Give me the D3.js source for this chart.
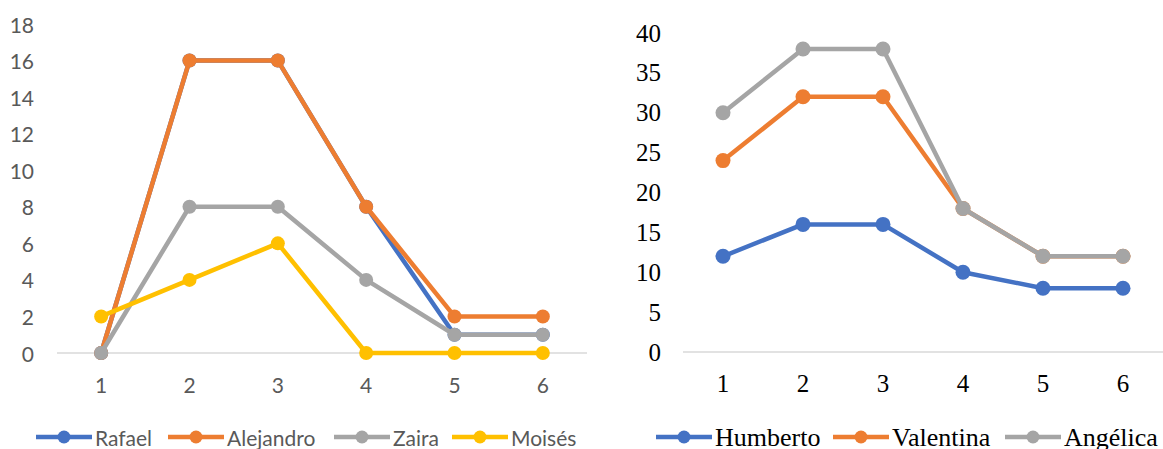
<!DOCTYPE html>
<html>
<head>
<meta charset="utf-8">
<script src="https://cdn.jsdelivr.net/npm/d3@7"></script>
<style>
  html, body { margin: 0; padding: 0; background: #fff; }
  svg { display: block; }
</style>
</head>
<body>
<svg id="chart" width="1163" height="449"></svg>
<script>
// Sessions 1..6 shared by both panels
const sessions = ["1", "2", "3", "4", "5", "6"];

// Left panel series
const leftTicks = [0, 2, 4, 6, 8, 10, 12, 14, 16, 18];
const rafael     = [0, 16, 16, 8, 1, 1];
const alejandro  = [0, 16, 16, 8, 2, 2];
const zaira      = [0, 8, 8, 4, 1, 1];
const moises     = [2, 4, 6, 0, 0, 0];

// Right panel series
const rightTicks = [0, 5, 10, 15, 20, 25, 30, 35, 40];
const humberto   = [12, 16, 16, 10, 8, 8];
const valentina  = [24, 32, 32, 18, 12, 12];
const angelica   = [30, 38, 38, 18, 12, 12];

const BLUE = "#4472C4", ORANGE = "#ED7D31", GREY = "#A5A5A5", GOLD = "#FFC000";

const svg = d3.select("#chart");

function panel(cfg) {
  const g = svg.append("g");
  const x = d3.scalePoint().domain(sessions).range(cfg.xRange).padding(0.5);
  const y = d3.scaleLinear().domain([0, cfg.max]).range(cfg.yRange);

  // baseline
  g.append("line")
    .attr("x1", cfg.xRange[0]).attr("x2", cfg.xRange[1])
    .attr("y1", y(0)).attr("y2", y(0))
    .attr("stroke", "#D9D9D9").attr("stroke-width", 1.3);

  // y tick labels
  g.selectAll("text.ytick").data(cfg.ticks).join("text")
    .attr("class", "ytick")
    .attr("x", cfg.yLabelX).attr("y", d => y(d))
    .attr("text-anchor", "end").attr("dominant-baseline", "central")
    .attr("font-family", cfg.font).attr("font-size", cfg.fontSize)
    .attr("fill", cfg.textColor)
    .text(d => d);

  // x tick labels
  g.selectAll("text.xtick").data(sessions).join("text")
    .attr("class", "xtick")
    .attr("x", d => x(d)).attr("y", cfg.xLabelY)
    .attr("text-anchor", "middle").attr("dominant-baseline", "central")
    .attr("font-family", cfg.font).attr("font-size", cfg.fontSize)
    .attr("fill", cfg.textColor)
    .text(d => d);

  const line = d3.line().x((d, i) => x(sessions[i])).y(d => y(d));

  cfg.series.forEach(s => {
    const sg = g.append("g");
    sg.append("path").datum(s.values)
      .attr("d", line).attr("fill", "none")
      .attr("stroke", s.color).attr("stroke-width", 4.5)
      .attr("stroke-linejoin", "round");
    sg.selectAll("circle").data(s.values).join("circle")
      .attr("cx", (d, i) => x(sessions[i])).attr("cy", d => y(d))
      .attr("r", cfg.r).attr("fill", s.color);
  });

  // legend
  const lg = g.append("g");
  cfg.series.forEach((s, i) => {
    const lx = cfg.legendX[i];
    lg.append("line")
      .attr("x1", lx).attr("x2", lx + 56)
      .attr("y1", cfg.legendY).attr("y2", cfg.legendY)
      .attr("stroke", s.color).attr("stroke-width", 4.5);
    lg.append("circle").attr("cx", lx + 28).attr("cy", cfg.legendY)
      .attr("r", 6.5).attr("fill", s.color);
    lg.append("text")
      .attr("x", lx + 59).attr("y", cfg.legendY)
      .attr("dominant-baseline", "central")
      .attr("font-family", cfg.font).attr("font-size", cfg.legendSize)
      .attr("fill", cfg.textColor)
      .text(s.name);
  });
}

panel({
  xRange: [57, 587], yRange: [353, 24], max: 18, ticks: leftTicks,
  yLabelX: 34, xLabelY: 384,
  font: "Lato, 'Open Sans', sans-serif", fontSize: 21, legendSize: 21,
  textColor: "#595959", r: 7,
  legendX: [36, 168, 334, 452], legendY: 437,
  series: [
    { name: "Rafael", values: rafael, color: BLUE },
    { name: "Alejandro", values: alejandro, color: ORANGE },
    { name: "Zaira", values: zaira, color: GREY },
    { name: "Moisés", values: moises, color: GOLD }
  ]
});

panel({
  xRange: [683, 1163], yRange: [352, 33], max: 40, ticks: rightTicks,
  yLabelX: 661, xLabelY: 383,
  font: "'Liberation Serif', 'Times New Roman', serif", fontSize: 25, legendSize: 26,
  textColor: "#000", r: 7.5,
  legendX: [656, 833, 1005], legendY: 437,
  series: [
    { name: "Humberto", values: humberto, color: BLUE },
    { name: "Valentina", values: valentina, color: ORANGE },
    { name: "Angélica", values: angelica, color: GREY }
  ]
});
</script>
</body>
</html>
